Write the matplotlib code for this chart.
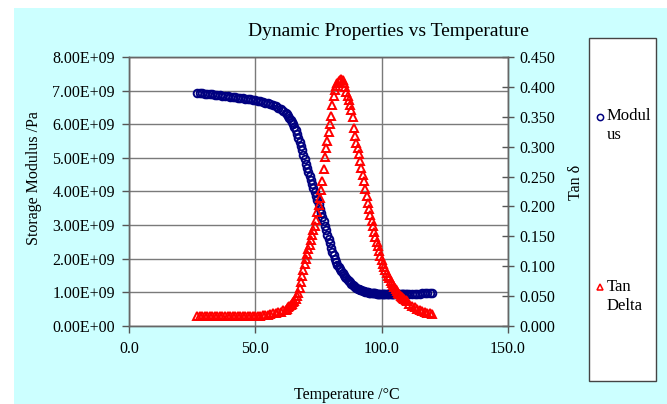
import matplotlib
matplotlib.use("Agg")
import numpy as np
import matplotlib.pyplot as plt
from matplotlib.patches import Rectangle
from matplotlib.lines import Line2D

plt.rcParams['font.family'] = ['Liberation Serif', 'DejaVu Serif']

# temperature grid, °C (1 deg steps on flat parts, 0.5 deg through the transition)
temp = [27, 28, 29, 30, 31, 32, 33, 34, 35, 36,
        37, 38, 39, 40, 41, 42, 43, 44, 45, 46,
        47, 48, 49, 50, 51, 52, 53, 54, 55, 56,
        57, 58, 59, 60, 61, 62,
        62.5, 63.0, 63.5, 64.0, 64.5, 65.0, 65.5, 66.0, 66.5, 67.0,
        67.5, 68.0, 68.5, 69.0, 69.5, 70.0, 70.5, 71.0, 71.5, 72.0,
        72.5, 73.0, 73.5, 74.0, 74.5, 75.0, 75.5, 76.0, 76.5, 77.0,
        77.5, 78.0, 78.5, 79.0, 79.5, 80.0, 80.5, 81.0, 81.5, 82.0,
        82.5, 83.0, 83.5, 84.0, 84.5, 85.0, 85.5, 86.0, 86.5, 87.0,
        87.5, 88.0, 88.5, 89.0, 89.5, 90.0, 90.5, 91.0, 91.5, 92.0,
        92.5, 93.0, 93.5, 94.0, 94.5, 95.0, 95.5, 96.0, 96.5, 97.0,
        97.5, 98.0, 98.5, 99.0, 99.5, 100.0,
        100.5, 101.0, 101.5, 102.0, 102.5, 103.0, 103.5, 104.0, 104.5, 105.0,
        105.5, 106.0, 106.5, 107.0, 107.5, 108.0, 108.5, 109.0, 109.5, 110.0,
        111, 112, 113, 114, 115, 116, 117, 118, 119, 120]

# storage modulus, x1e9 Pa
modulus = [6.94, 6.93, 6.92, 6.91, 6.90, 6.90, 6.89, 6.88, 6.87, 6.86,
           6.85, 6.84, 6.83, 6.82, 6.81, 6.80, 6.79, 6.78, 6.77, 6.76,
           6.75, 6.74, 6.73, 6.72, 6.70, 6.68, 6.66, 6.64, 6.62, 6.59,
           6.56, 6.53, 6.49, 6.45, 6.40, 6.34,
           6.30, 6.26, 6.20, 6.14, 6.07, 6.00, 5.92, 5.83, 5.72, 5.60,
           5.48, 5.35, 5.22, 5.09, 4.96, 4.83, 4.71, 4.59, 4.47, 4.35,
           4.23, 4.11, 3.98, 3.86, 3.74, 3.62, 3.49, 3.37, 3.24, 3.11,
           2.98, 2.85, 2.72, 2.59, 2.46, 2.33, 2.21, 2.10, 1.99, 1.90,
           1.82, 1.75, 1.69, 1.63, 1.57, 1.52, 1.47, 1.42, 1.38, 1.34,
           1.30, 1.26, 1.22, 1.18, 1.15, 1.12, 1.10, 1.09, 1.07, 1.06,
           1.04, 1.03, 1.02, 1.01, 1.00, 0.99, 0.99, 0.98, 0.98, 0.97,
           0.97, 0.96, 0.96, 0.96, 0.95, 0.95,
           0.95, 0.95, 0.95, 0.95, 0.95, 0.95, 0.95, 0.95, 0.95, 0.95,
           0.95, 0.95, 0.95, 0.95, 0.95, 0.95, 0.95, 0.95, 0.95, 0.95,
           0.95, 0.96, 0.96, 0.96, 0.96, 0.97, 0.97, 0.97, 0.97, 0.97]

tan_delta = [0.016, 0.016, 0.016, 0.016, 0.016, 0.016, 0.016, 0.016, 0.016, 0.016,
             0.016, 0.016, 0.016, 0.016, 0.016, 0.016, 0.016, 0.016, 0.016, 0.016,
             0.016, 0.017, 0.017, 0.017, 0.017, 0.017, 0.018, 0.018, 0.019, 0.020,
             0.021, 0.022, 0.023, 0.024, 0.026, 0.027,
             0.029, 0.031, 0.033, 0.035, 0.037, 0.040, 0.042, 0.045, 0.050, 0.056,
             0.064, 0.073, 0.083, 0.093, 0.103, 0.112, 0.120, 0.128, 0.136, 0.144,
             0.152, 0.160, 0.168, 0.178, 0.190, 0.202, 0.214, 0.228, 0.242, 0.262,
             0.282, 0.298, 0.310, 0.325, 0.338, 0.352, 0.370, 0.385, 0.395, 0.402,
             0.407, 0.410, 0.412, 0.413, 0.411, 0.406, 0.399, 0.392, 0.385, 0.378,
             0.370, 0.361, 0.350, 0.332, 0.318, 0.306, 0.298, 0.287, 0.276, 0.264,
             0.253, 0.242, 0.230, 0.218, 0.206, 0.196, 0.186, 0.176, 0.167, 0.158,
             0.149, 0.141, 0.133, 0.125, 0.117, 0.110,
             0.104, 0.099, 0.094, 0.089, 0.084, 0.080, 0.076, 0.072, 0.068, 0.065,
             0.062, 0.059, 0.056, 0.054, 0.051, 0.049, 0.047, 0.045, 0.043, 0.041,
             0.037, 0.034, 0.031, 0.029, 0.027, 0.025, 0.024, 0.022, 0.021, 0.020]

x_ticks = [0, 50, 100, 150]
left_ticks = [0, 1e9, 2e9, 3e9, 4e9, 5e9, 6e9, 7e9, 8e9]
right_ticks = [0.0, 0.05, 0.10, 0.15, 0.20, 0.25, 0.30, 0.35, 0.40, 0.45]

W, H = 667, 404
fig = plt.figure(figsize=(W / 100, H / 100), dpi=100)
fig.patch.set_facecolor('white')
fig.add_artist(Rectangle((14 / W, 0), 1 - 14 / W, 1 - 8 / H, transform=fig.transFigure,
                         facecolor='#CCFFFF', edgecolor='none', zorder=0))

ax = fig.add_axes([129 / W, 78 / H, 379 / W, 269 / H])
ax.set_facecolor('white')
ax.plot(temp, np.array(modulus) * 1e9, linestyle='none', marker='o', ms=5.5,
        mfc='none', mec='#000080', mew=1.4)
ax.set_xlim(0, 150)
ax.set_ylim(0, 8e9)
ax.set_xticks(x_ticks)
ax.set_xticklabels(['{:.1f}'.format(v) for v in x_ticks])
ax.set_yticks(left_ticks)
ax.set_yticklabels(['{:.2E}'.format(v) for v in left_ticks])
ax.grid(True, color='#7a7a7a', lw=1)
ax.set_axisbelow(True)
ax.tick_params(axis='both', labelsize=11.5, color='#555555', length=5, width=1)
ax.tick_params(axis='x', pad=6)
ax.tick_params(axis='y', pad=5)

ax2 = ax.twinx()
ax2.plot(temp, tan_delta, linestyle='none', marker='^', ms=5.5,
         mfc='none', mec='#ff0000', mew=1.4)
ax2.set_ylim(0, 0.45)
ax2.set_yticks(right_ticks)
ax2.set_yticklabels(['{:.3f}'.format(v) for v in right_ticks])
ax2.tick_params(axis='y', labelsize=11.5, color='#555555', direction='inout', length=9, width=1, pad=4)

for a in (ax, ax2):
    for s in a.spines.values():
        s.set_color('#666666')
        s.set_linewidth(1)

fig.text(388 / W, 1 - 32 / H, 'Dynamic Properties vs Temperature', ha='center', va='center', fontsize=14)
fig.text(34 / W, 1 - 178 / H, 'Storage Modulus /Pa', rotation=90, ha='center', va='center', fontsize=11.5)
fig.text(576 / W, 1 - 182 / H, 'Tan δ', rotation=90, ha='center', va='center', fontsize=11.5)
fig.text(347 / W, 1 - 387 / H, 'Temperature /°C', ha='center', va='top', fontsize=11.5)

# legend box
fig.add_artist(Rectangle((589 / W, 1 - 381 / H), 67 / W, 343 / H, transform=fig.transFigure,
                         facecolor='white', edgecolor='#444444', lw=1))
fig.add_artist(Line2D([600 / W], [1 - 117 / H], transform=fig.transFigure, marker='o', ms=4.5,
                      mfc='none', mec='#000080', mew=1.1, linestyle='none'))
fig.text(607 / W, 1 - 116 / H, 'Modul', va='center', fontsize=12)
fig.text(607 / W, 1 - 135 / H, 'us', va='center', fontsize=12)
fig.add_artist(Line2D([600 / W], [1 - 287 / H], transform=fig.transFigure, marker='^', ms=4.5,
                      mfc='none', mec='#ff0000', mew=1.1, linestyle='none'))
fig.text(607 / W, 1 - 287 / H, 'Tan', va='center', fontsize=12)
fig.text(607 / W, 1 - 306 / H, 'Delta', va='center', fontsize=12)

fig.savefig('out.png', dpi=100)
